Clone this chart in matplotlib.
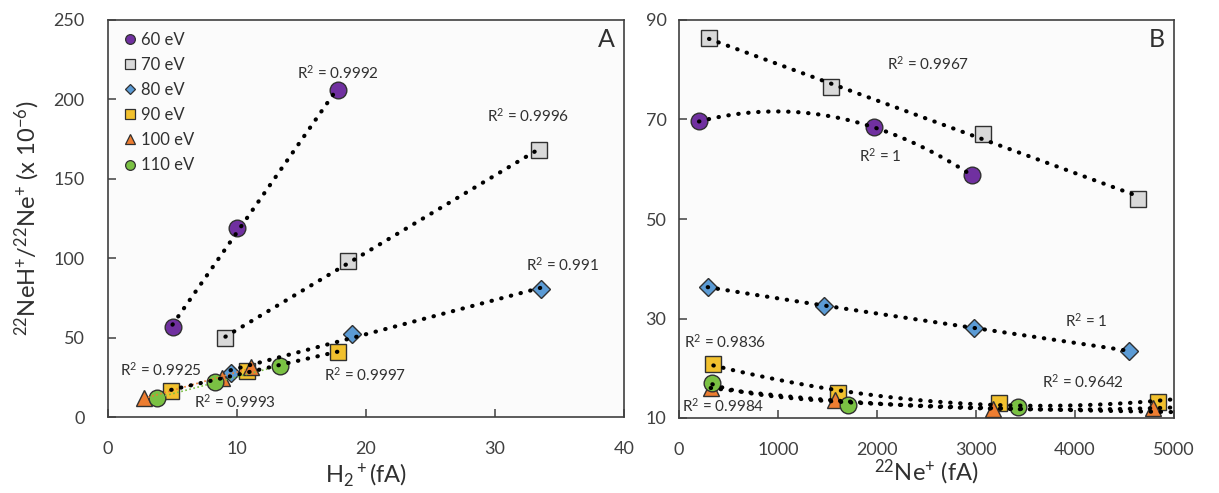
import numpy as np
import matplotlib
matplotlib.use("Agg")
from matplotlib import pyplot as plt

plt.rcParams['font.family'] = ['Lato', 'DejaVu Sans']
plt.rcParams['mathtext.fontset'] = 'custom'
plt.rcParams['mathtext.rm'] = 'Lato'
plt.rcParams['mathtext.it'] = 'Lato:italic'

# ---- data, panel A (x = H2+ current in fA) ----
labels = ['60 eV', '70 eV', '80 eV', '90 eV', '100 eV', '110 eV']
colors = ['#7030a0', '#d9d9d9', '#5b9bd5', '#f2c12e', '#ed7d31', '#7ac143']
markers = ['o', 's', 'D', 's', '^', 'o']
msizes = [12, 11, 9, 11, 11, 12]

a_x = [[5.0, 10.0, 17.8],
       [9.1, 18.6, 33.4],
       [9.5, 18.9, 33.6],
       [4.9, 10.8, 17.8],
       [2.8, 8.8, 11.1],
       [3.8, 8.3, 13.3]]
a_y = [[56.5, 119, 206],
       [49.5, 98.5, 168],
       [27.9, 52.3, 80.5],
       [16.6, 29.0, 40.7],
       [12.0, 24.5, 31.5],
       [11.8, 22.2, 32.0]]
a_r2 = ['0.9992', '0.9996', '0.991', '0.9997', '0.9925', '0.9993']
a_r2_pos = [(17.8, 217), (32.6, 190), (35.2, 96), (19.9, 26.4), (4.1, 30), (9.85, 9.6)]

# ---- data, panel B (x = 22Ne+ current in fA) ----
b_x = [[202, 1973, 2956],
       [303, 1532, 3074, 4639],
       [290, 1468, 2983, 4545],
       [347, 1603, 3232, 4835],
       [320, 1573, 3175, 4791],
       [337, 1710, 3427]]
b_y = [[69.6, 68.4, 58.8],
       [86.3, 76.6, 67.0, 54.1],
       [36.3, 32.6, 28.1, 23.5],
       [20.8, 15.0, 13.1, 13.3],
       [16.0, 13.6, 11.8, 12.0],
       [17.0, 12.6, 12.2]]
b_r2 = ['1', '0.9967', '1', '0.9836', '0.9642', '0.9984']
b_r2_pos = [(2030, 62.8), (2512, 81.3), (4118, 29.5), (465, 25.4), (4084, 17.2), (448, 12.5)]
b_fit = ['poly2', 'lin', 'poly3', 'poly2', 'poly2', 'power']
b_fit_end = [None, None, None, 4980, 4980, 4980]

dot = dict(color='black', lw=3.0, ls=(0, (0.1, 2.3)), dash_capstyle='round', zorder=5)

fig = plt.figure(figsize=(12.19, 4.93), dpi=100)
axA = fig.add_axes([108 / 1219, 76 / 493, 516 / 1219, 397 / 493])
axB = fig.add_axes([679 / 1219, 75 / 493, 495 / 1219, 398 / 493])

for ax in (axA, axB):
    ax.set_facecolor('#fbfbfb')
    for s in ax.spines.values():
        s.set_color('#404040')
        s.set_linewidth(1.2)
    ax.tick_params(direction='in', length=6, width=1.1, color='#404040',
                   labelsize=13, labelcolor='#404040')

# panel A
for i in range(6):
    x = np.array(a_x[i])
    y = np.array(a_y[i])
    ax = axA
    ax.plot(x, y, ls='none', marker=markers[i], ms=msizes[i], mfc=colors[i],
            mec='#303030', mew=1.0, zorder=3)
    k, b = np.polyfit(x, y, 1)
    xx = np.linspace(x.min(), x.max(), 50)
    if i < 4:
        ax.plot(xx, k * xx + b, **dot)
    else:
        ax.plot(xx, k * xx + b, color=colors[i], lw=1.2, ls=(0, (1, 1.5)), zorder=4)
    ax.text(a_r2_pos[i][0], a_r2_pos[i][1], 'R$^2$ = ' + a_r2[i], ha='center', va='center',
            fontsize=11, color='#303030')

# legend handles
for i in range(6):
    axA.plot([], [], ls='none', marker=markers[i], ms=7 if markers[i] != 'D' else 5.5,
             mfc=colors[i], mec='#303030', mew=0.9, label=labels[i])
axA.legend(loc='upper left', frameon=False, fontsize=12, handletextpad=0.1,
           labelspacing=0.55, borderaxespad=0.3, handlelength=1.2, labelcolor='#303030')

axA.set_xlim(0, 40)
axA.set_ylim(0, 250)
axA.set_xticks([0, 10, 20, 30, 40])
axA.set_yticks([0, 50, 100, 150, 200, 250])
axA.tick_params(axis='both', pad=17)
axA.text(0.965, 0.95, 'A', transform=axA.transAxes, fontsize=18, color='#303030',
         ha='center', va='center')
axA.set_xlabel('H$_2$$^+$(fA)', fontsize=17, color='#303030', labelpad=3)
axA.set_ylabel('$^{22}$NeH$^{+}$/$^{22}$Ne$^{+}$ (x 10$^{-6}$)', fontsize=17,
               color='#303030', labelpad=8)

# panel B
for i in range(6):
    x = np.array(b_x[i], dtype=float)
    y = np.array(b_y[i], dtype=float)
    ax = axB
    ax.plot(x, y, ls='none', marker=markers[i], ms=msizes[i], mfc=colors[i],
            mec='#303030', mew=1.0, zorder=3)
    x_end = b_fit_end[i] if b_fit_end[i] else x.max()
    xx = np.linspace(x.min(), x_end, 200)
    if b_fit[i] == 'lin':
        yy = np.polyval(np.polyfit(x, y, 1), xx)
    elif b_fit[i] == 'poly2':
        yy = np.polyval(np.polyfit(x, y, 2), xx)
    elif b_fit[i] == 'poly3':
        yy = np.polyval(np.polyfit(x, y, 3), xx)
    else:
        p = np.polyfit(np.log(x), np.log(y), 1)
        yy = np.exp(np.polyval(p, np.log(xx)))
    ax.plot(xx, yy, **dot)
    ax.text(b_r2_pos[i][0], b_r2_pos[i][1], 'R$^2$ = ' + b_r2[i], ha='center', va='center',
            fontsize=11, color='#303030')

axB.set_xlim(0, 5000)
axB.set_ylim(10, 90)
axB.set_xticks([0, 1000, 2000, 3000, 4000, 5000])
axB.set_yticks([10, 30, 50, 70, 90])
axB.tick_params(axis='x', pad=17)
axB.tick_params(axis='y', pad=9)
axB.text(0.965, 0.95, 'B', transform=axB.transAxes, fontsize=18, color='#303030',
         ha='center', va='center')
axB.set_xlabel('$^{22}$Ne$^{+}$ (fA)', fontsize=17, color='#303030', labelpad=0)

fig.savefig('out.png', dpi=100, facecolor='white')
